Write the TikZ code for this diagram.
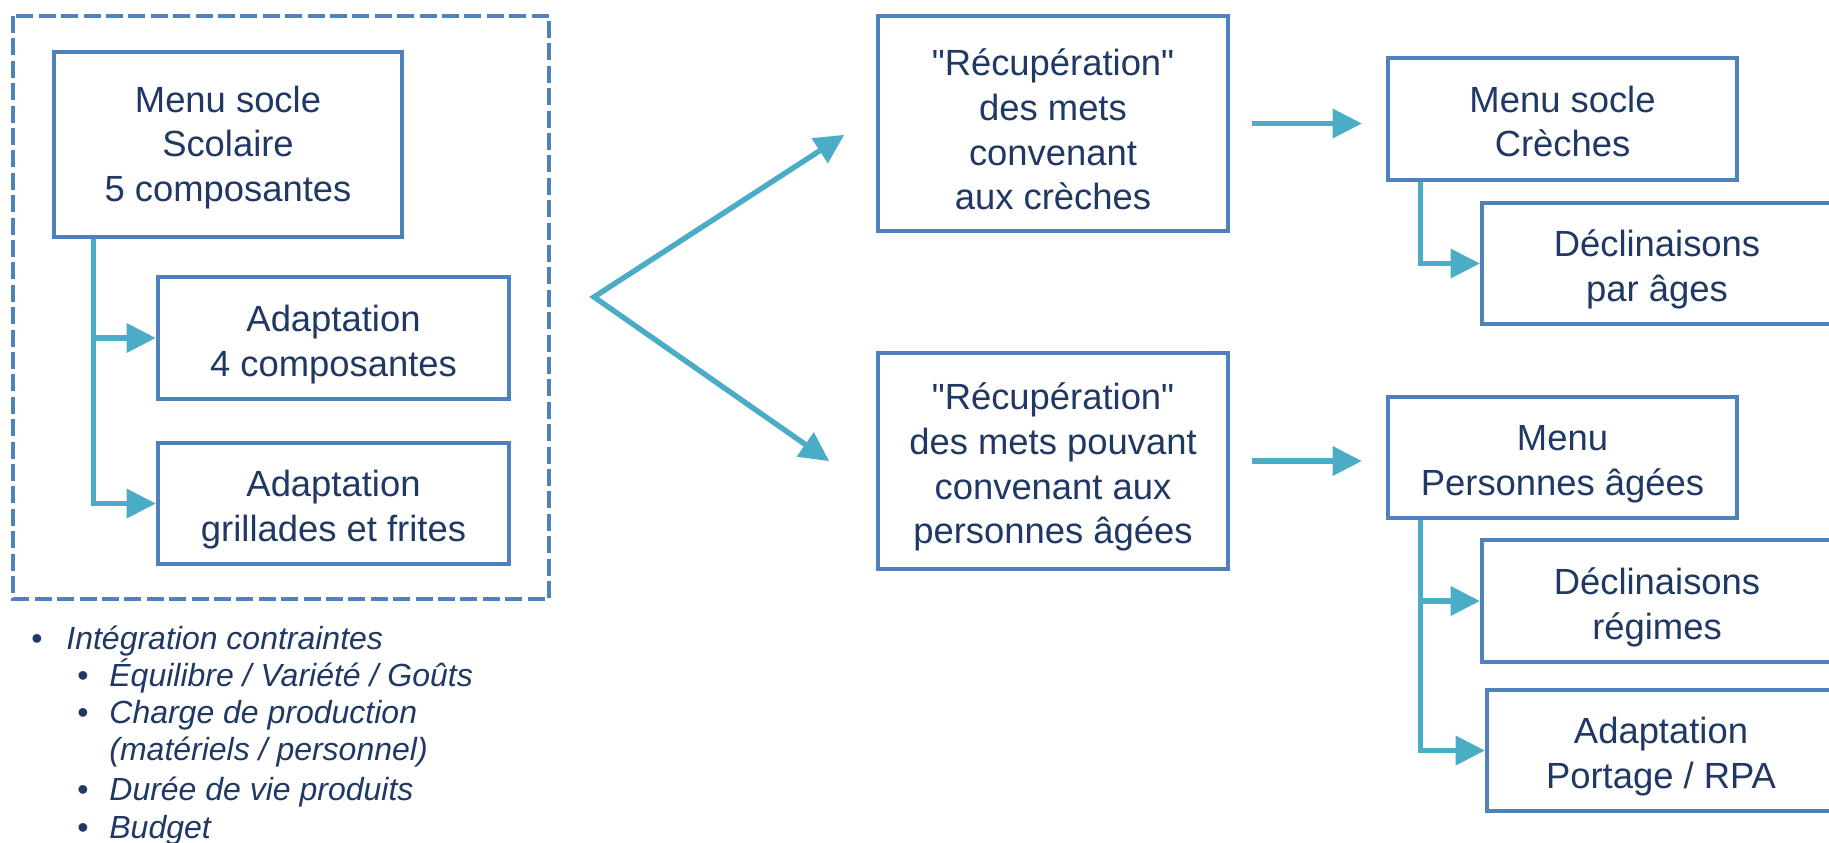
\documentclass[tikz,border=0pt]{standalone}
\usepackage{fontspec}
\setmainfont{Liberation Sans}[Ligatures=TeXOff]
\usetikzlibrary{arrows.meta}

\definecolor{boxblue}{RGB}{79,129,189}
\definecolor{linkaqua}{RGB}{75,172,198}
\definecolor{inknavy}{RGB}{31,56,100}

\newcommand\boxtext{\fontsize{18.2pt}{22.3pt}\selectfont}
\newcommand\listtext{\fontsize{16pt}{19pt}\selectfont\itshape}
% taller first line, so that the text sits a little lower in its box
\newcommand\firstline[1][19.5pt]{\rule{0pt}{#1}}

\begin{document}
\begin{tikzpicture}[x=0.5pt,y=-0.5pt,
  >={Triangle[length=14.5pt,width=15pt,line width=0pt]},
  box/.style={draw=boxblue, line width=2.4pt, fill=white, align=center,
    inner sep=0pt, text=inknavy, font=\boxtext},
  link/.style={draw=linkaqua, line width=2.7pt},
  arr/.style={link, ->},
  frame/.style={draw=boxblue, line width=2.3pt, dash pattern=on 8.5pt off 2.7pt},
  item/.style={anchor=base west, inner sep=0pt, text=inknavy, font=\listtext},
  dot/.style={anchor=base, inner sep=0pt, text=inknavy,
    font=\fontsize{16pt}{19pt}\selectfont},
]
\useasboundingbox (0,0) rectangle (1829,842);
\clip (0,0) rectangle (1829,842);

% school menu group
\draw[frame] (13,16) rectangle (549,599);

\node[box, minimum width=174pt, minimum height=92.5pt] (ms) at (228,144.5)
  {\firstline[16pt]Menu socle\\Scolaire\\5 composantes};
\node[box, minimum width=175.5pt, minimum height=61pt] (a1) at (333.5,338)
  {\firstline Adaptation\\4 composantes};
\node[box, minimum width=175.5pt, minimum height=60.5pt] (a2) at (333.5,503.5)
  {\firstline Adaptation\\grillades et frites};

\coordinate (t1) at ([xshift=21pt]ms.south west);
\draw[arr] (t1) |- (a2.west);
\draw[arr] (t1 |- a1.west) -- (a1.west);

% constraints list
\node[dot]  (b0) at (37,649) {•};
\node[item] (l0) at (66,649) {Intégration contraintes};
\node[dot]  (b1) at (83,686) {•};
\node[item] (l1) at (109,686) {Équilibre / Variété / Goûts};
\node[dot]  (b2) at (83,723) {•};
\node[item] (l2) at (109,723) {Charge de production};
\node[item] (l2b) at (109,760) {(matériels / personnel)};
\node[dot]  (b3) at (83,800) {•};
\node[item] (l3) at (109,800) {Durée de vie produits};
\node[dot]  (b4) at (83,838) {•};
\node[item] (l4) at (109,838) {Budget};

% split towards the two recoveries
\coordinate (fork) at (594,297);
\coordinate (tipU) at (844,135);
\coordinate (tipL) at (829,461);
\draw[link, <->] (tipU) -- (fork) -- (tipL);

\node[box, minimum width=175pt, minimum height=107.5pt] (r1) at (1053,123.5)
  {\firstline "Récupération"\\des mets\\convenant\\aux crèches};
\node[box, minimum width=175pt, minimum height=108pt] (r2) at (1053,461)
  {\firstline "Récupération"\\des mets pouvant\\convenant aux\\personnes âgées};

% nursery branch
\node[box, minimum width=174.5pt, minimum height=61pt] (mC) at (1562.5,119)
  {\firstline[15.5pt]Menu socle\\Crèches};
\node[box, minimum width=175pt, minimum height=60.5pt] (d1) at (1657,263.5)
  {\firstline Déclinaisons\\par âges};
\draw[arr, shorten <=11pt, shorten >=12pt] (r1.east) -- (r1.east -| mC.west);
\coordinate (t2) at ([xshift=17.5pt]mC.south west);
\draw[arr] (t2) |- (d1.west);

% elderly branch
\node[box, minimum width=174.5pt, minimum height=60.5pt] (mP) at (1562.5,457.5)
  {\firstline Menu\\Personnes âgées};
\node[box, minimum width=175pt, minimum height=61pt] (d2) at (1657,601)
  {\firstline Déclinaisons\\régimes};
\node[box, minimum width=174pt, minimum height=60.5pt] (pt) at (1661,750.5)
  {\firstline Adaptation\\Portage / RPA};
\draw[arr, shorten <=11pt, shorten >=12pt] (r2.east) -- (r2.east -| mP.west);
\coordinate (t3) at ([xshift=17.5pt]mP.south west);
\draw[arr] (t3) |- (pt.west);
\draw[arr] (t3 |- d2.west) -- (d2.west);
\end{tikzpicture}
\end{document}
